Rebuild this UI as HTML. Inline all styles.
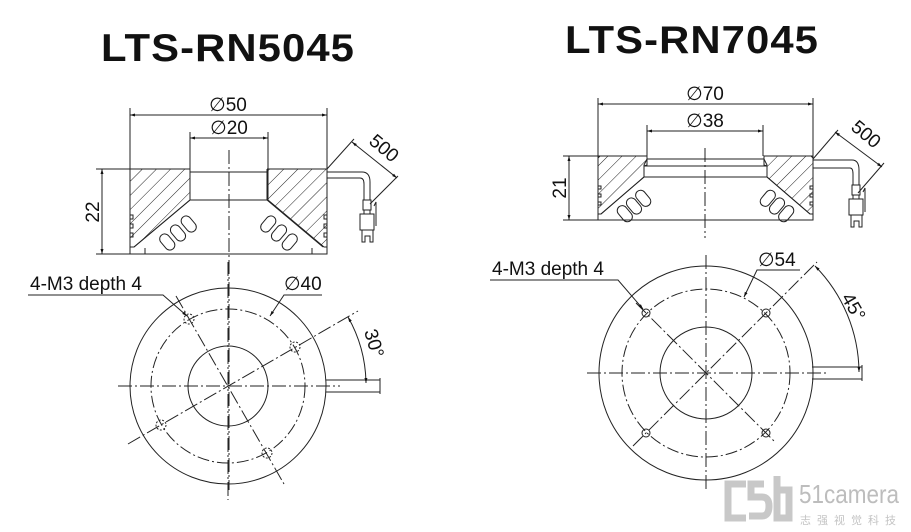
<!DOCTYPE html>
<html><head><meta charset="utf-8"><style>
html,body{margin:0;padding:0;background:#fff;}
svg{display:block;font-family:"Liberation Sans",Arial,sans-serif;}
</style></head><body>
<svg width="911" height="532" viewBox="0 0 911 532" xmlns="http://www.w3.org/2000/svg">
<defs>
<pattern id="h" patternUnits="userSpaceOnUse" width="10" height="10" patternTransform="rotate(45)">
<line x1="0" y1="0" x2="0" y2="10" stroke="#222" stroke-width="1"/>
</pattern>
<marker id="a" viewBox="0 0 10 10" refX="10" refY="5" markerWidth="7" markerHeight="5" orient="auto-start-reverse"><path d="M0,2 L10,5 L0,8z" fill="#111"/></marker>
<g id="led"><rect x="-5" y="-9" width="10" height="18" rx="5" fill="#fff" stroke="#222" stroke-width="1"/></g>
</defs>
<g font-weight="bold" font-size="39" fill="#111" text-anchor="middle" letter-spacing="1">
<text x="228" y="61" textLength="254" lengthAdjust="spacingAndGlyphs">LTS-RN5045</text>
<text x="692" y="53" textLength="254" lengthAdjust="spacingAndGlyphs">LTS-RN7045</text>
</g>

<g stroke="#222" stroke-width="1" fill="none">
<polygon points="130,169 190,169 190,200 134,247 130,247" fill="url(#h)"/>
<polygon points="327,169 268,169 268,200 324,247 327,247" fill="url(#h)"/>
<polygon points="598,156 647,156 647,165 644,166 644,177 601,214 598,214" fill="url(#h)"/>
<polygon points="813,156 764,156 764,165 767,166 767,177 810,214 813,214" fill="url(#h)"/>
<g id="lhalf">
<polyline points="190,169 130,169 130,254 145,254 145,248"/>
<line x1="190" y1="169" x2="190" y2="200"/>
<line x1="190" y1="200" x2="134" y2="247"/>
<g transform="translate(178,233) rotate(-40)"><use href="#led" x="-14" y="0"/><use href="#led" x="0" y="0"/><use href="#led" x="14" y="0"/></g>
<path d="M130,215 h3 v4 h-3 M130,224 h3 v4 h-3 M130,233 h3 v4 h-3"/>
</g>
<use href="#lhalf" transform="translate(457,0) scale(-1,1)"/>
<line x1="190" y1="172" x2="268" y2="172"/>
<line x1="190" y1="200" x2="268" y2="200"/>
<line x1="145" y1="254" x2="312" y2="254"/>
<line x1="229" y1="150" x2="229" y2="490" stroke-dasharray="14,3,2,3"/>
<line x1="130" y1="108" x2="130" y2="169"/><line x1="327" y1="108" x2="327" y2="169"/>
<line x1="130" y1="115" x2="327" y2="115" marker-start="url(#a)" marker-end="url(#a)"/>
<line x1="190" y1="132" x2="190" y2="169"/><line x1="268" y1="132" x2="268" y2="169"/>
<line x1="190" y1="138" x2="268" y2="138" marker-start="url(#a)" marker-end="url(#a)"/>
<line x1="96" y1="169" x2="130" y2="169"/><line x1="96" y1="254" x2="130" y2="254"/>
<line x1="102" y1="169" x2="102" y2="254" marker-start="url(#a)" marker-end="url(#a)"/>
<line x1="327" y1="169" x2="354" y2="139"/>
<line x1="370" y1="204" x2="398" y2="176"/>
<line x1="352" y1="142" x2="397" y2="178" marker-start="url(#a)" marker-end="url(#a)"/>
<path d="M327,172 H362 Q370,172 370,182 V200 M327,178 H360 Q364,178 364,184 V200"/>
<path d="M363,200 h8 v10 h-8z M364,210 v4 h6 v-4 M360,214 h14 v16 h-14z M362,230 v12 h3 v-6 h5 v6 h3 v-12 M374,206 l2,-4 v24"/>

<g id="rhalf">
<polyline points="647,156 600,156 598,158 598,220 612,220"/>
<polyline points="647,156 647,159 644,165 644,177"/>
<line x1="644" y1="177" x2="601" y2="214"/>
<g transform="translate(634,206) rotate(-40)"><use href="#led" x="-12" y="0"/><use href="#led" x="0" y="0"/><use href="#led" x="12" y="0"/></g>
<path d="M598,186 h3 v3 h-3 M598,194 h3 v3 h-3 M598,202 h3 v3 h-3"/>
</g>
<use href="#rhalf" transform="translate(1411,0) scale(-1,1)"/>
<line x1="647" y1="159" x2="764" y2="159"/>
<line x1="644" y1="166" x2="767" y2="166"/>
<line x1="644" y1="177" x2="767" y2="177"/>
<line x1="612" y1="220" x2="799" y2="220"/>
<line x1="705" y1="148" x2="705" y2="238" stroke-dasharray="14,3,2,3"/>
<line x1="598" y1="98" x2="598" y2="156"/><line x1="813" y1="98" x2="813" y2="156"/>
<line x1="598" y1="104" x2="813" y2="104" marker-start="url(#a)" marker-end="url(#a)"/>
<line x1="647" y1="125" x2="647" y2="156"/><line x1="763" y1="125" x2="763" y2="156"/>
<line x1="647" y1="131" x2="763" y2="131" marker-start="url(#a)" marker-end="url(#a)"/>
<line x1="563" y1="156" x2="598" y2="156"/><line x1="563" y1="220" x2="598" y2="220"/>
<line x1="569" y1="156" x2="569" y2="220" marker-start="url(#a)" marker-end="url(#a)"/>
<line x1="813" y1="159" x2="838" y2="130"/>
<line x1="858" y1="193" x2="884" y2="163"/>
<line x1="835" y1="132" x2="882" y2="167" marker-start="url(#a)" marker-end="url(#a)"/>
<path d="M813,160 H852 Q859,160 859,170 V185 M813,168 H850 Q853,168 853,174 V185"/>
<path d="M852,185 h8 v10 h-8z M853,195 v4 h6 v-4 M849,199 h14 v16 h-14z M851,215 v12 h3 v-6 h5 v6 h3 v-12 M863,192 l2,-4 v24"/>

<circle cx="228" cy="386" r="98"/>
<circle cx="228" cy="386" r="77" stroke-dasharray="12,3,2,3"/>
<circle cx="228" cy="386" r="40"/>
<line x1="228" y1="262" x2="228" y2="500" stroke-dasharray="14,3,2,3"/>
<line x1="118" y1="386" x2="340" y2="386" stroke-dasharray="14,3,2,3"/>
<line x1="128" y1="444" x2="358" y2="311" stroke-dasharray="14,3,2,3"/>
<line x1="176" y1="296" x2="284" y2="484" stroke-dasharray="14,3,2,3"/>
<g stroke-dasharray="2,1.5"><circle cx="189" cy="319" r="5"/><circle cx="295" cy="347" r="5"/><circle cx="161" cy="425" r="5"/><circle cx="267" cy="453" r="5"/></g>
<path d="M326,380 H380 M326,392 H380 M380,378 v16"/>
<path d="M348,317 A138,138 0 0 1 366,383" marker-start="url(#a)" marker-end="url(#a)"/>
<path d="M28,295 H163 L187,316" marker-end="url(#a)"/>
<path d="M322,295 H284 L270,316" marker-end="url(#a)"/>

<circle cx="706" cy="373" r="107"/>
<circle cx="706" cy="373" r="84" stroke-dasharray="12,3,2,3"/>
<circle cx="706" cy="373" r="46"/>
<line x1="706" y1="255" x2="706" y2="490" stroke-dasharray="14,3,2,3"/>
<line x1="587" y1="373" x2="826" y2="373" stroke-dasharray="14,3,2,3"/>
<line x1="633" y1="446" x2="817" y2="262" stroke-dasharray="14,3,2,3"/>
<line x1="636" y1="303" x2="775" y2="442" stroke-dasharray="14,3,2,3"/>
<g><circle cx="646" cy="313" r="4"/><circle cx="766" cy="313" r="4"/><circle cx="646" cy="433" r="4"/><circle cx="766" cy="433" r="4"/></g>
<path d="M812,367 H862 M812,379 H862 M862,365 v16"/>
<path d="M815,266 A153,153 0 0 1 859,372" marker-start="url(#a)" marker-end="url(#a)"/>
<path d="M490,280 H618 L643,309" marker-end="url(#a)"/>
<path d="M800,270 H757 L744,297" marker-end="url(#a)"/>
</g>

<g fill="#111" font-size="19">
<text x="228" y="111" text-anchor="middle">∅50</text>
<text x="229" y="134" text-anchor="middle">∅20</text>
<text x="705" y="100" text-anchor="middle">∅70</text>
<text x="705" y="127" text-anchor="middle">∅38</text>
<text transform="translate(99,212) rotate(-90)" text-anchor="middle">22</text>
<text transform="translate(566,188) rotate(-90)" text-anchor="middle">21</text>
<text transform="translate(380,153) rotate(40)" text-anchor="middle">500</text>
<text transform="translate(862,139) rotate(40)" text-anchor="middle">500</text>
<text x="30" y="290">4-M3 depth 4</text>
<text x="492" y="275">4-M3 depth 4</text>
<text x="284" y="290">∅40</text>
<text x="758" y="266">∅54</text>
<text transform="translate(368,345) rotate(74)" text-anchor="middle">30°</text>
<text transform="translate(848,310) rotate(60)" text-anchor="middle">45°</text>
</g>

<g fill="none" stroke="#c8c8c8" stroke-width="7">
<path d="M746,484 h-18 v34 h18"/>
<path d="M764,484 h-13 v13 h11 q7,0 7,9 q0,10 -7,10 h-13"/>
<path d="M777,476 v42 h12 v-28 h-12"/>
</g>
<text x="799" y="503" fill="#bdbdbd" font-size="26" textLength="100" lengthAdjust="spacingAndGlyphs">51camera</text>
<text x="800" y="524" fill="#c4c4c4" font-size="11" textLength="96" font-family="'Liberation Sans','Noto Sans CJK SC',sans-serif">志强视觉科技</text>
</svg>
</body></html>
